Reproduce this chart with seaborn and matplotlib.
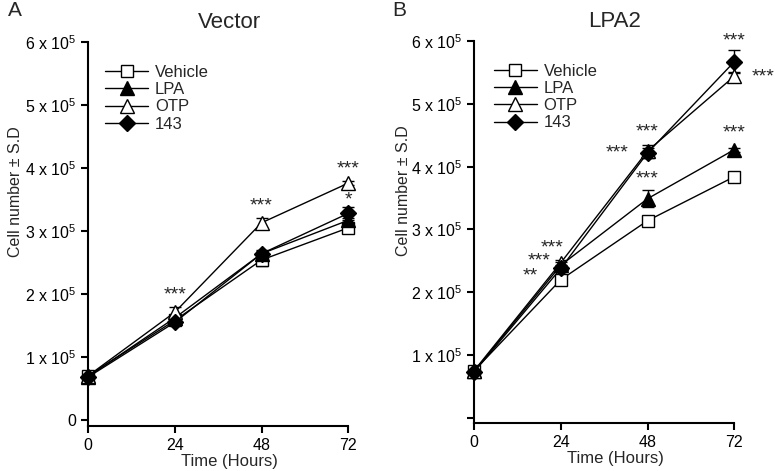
import matplotlib
matplotlib.use("Agg")
import matplotlib.pyplot as plt
import seaborn as sns
import pandas as pd
from matplotlib.lines import Line2D

sns.set_theme(style="ticks")
plt.rcParams['font.family'] = ['Liberation Sans', 'DejaVu Sans']
plt.rcParams['mathtext.fontset'] = 'custom'
plt.rcParams['mathtext.rm'] = 'Liberation Sans'
plt.rcParams['mathtext.it'] = 'Liberation Sans'

hours = [0, 24, 48, 72]
series = ["Vehicle", "LPA", "OTP", "143"]

# Values in units of 1e5 cells
vec_vehicle = [0.70, 1.58, 2.54, 3.05]
vec_lpa = [0.69, 1.62, 2.64, 3.17]
vec_otp = [0.70, 1.71, 3.13, 3.76]
vec_143 = [0.68, 1.55, 2.64, 3.28]
vec_vehicle_sd = [0.03, 0.04, 0.10, 0.08]
vec_lpa_sd = [0.03, 0.04, 0.05, 0.04]
vec_otp_sd = [0.03, 0.08, 0.08, 0.03]
vec_143_sd = [0.03, 0.04, 0.06, 0.10]

lpa2_vehicle = [0.75, 2.20, 3.14, 3.84]
lpa2_lpa = [0.74, 2.43, 3.49, 4.27]
lpa2_otp = [0.75, 2.47, 4.25, 5.44]
lpa2_143 = [0.73, 2.38, 4.22, 5.67]
lpa2_vehicle_sd = [0.03, 0.05, 0.07, 0.08]
lpa2_lpa_sd = [0.03, 0.05, 0.14, 0.03]
lpa2_otp_sd = [0.03, 0.05, 0.10, 0.07]
lpa2_143_sd = [0.03, 0.05, 0.08, 0.18]

ytick_vals = [0, 1, 2, 3, 4, 5, 6]
ytick_labels_a = ["0"] + [f"{v} x 10$^{{5}}$" for v in range(1, 7)]
ytick_labels_b = [""] + [f"{v} x 10$^{{5}}$" for v in range(1, 7)]

# significance annotations: (hours, value, text, dx)
stars_a = [(24, 1.98, "***", 0), (48, 3.4, "***", 0),
           (72, 3.98, "***", 0), (72, 3.5, "*", 0)]
stars_b = [(24, 2.71, "***", -2.5), (24, 2.50, "***", -6), (24, 2.26, "**", -8.5),
           (48, 4.55, "***", 0), (48, 4.21, "***", -8.5), (48, 3.80, "***", 0),
           (72, 6.00, "***", 0), (72, 5.43, "***", 8), (72, 4.53, "***", 0)]

styles = {
    "Vehicle": dict(marker="s", mfc="white", ms=9),
    "LPA": dict(marker="^", mfc="black", ms=10),
    "OTP": dict(marker="^", mfc="white", ms=10),
    "143": dict(marker="D", mfc="black", ms=8.5),
}

fig = plt.figure(figsize=(7.75, 4.71), dpi=100)
axA = fig.add_axes([88/775, (471-426.3)/471, 282/775, (426.3-42)/471])
axB = fig.add_axes([474/775, (471-423)/471, 282/775, (423-41)/471])


def draw(ax, means, sds, title, ylabels, stars, ybot, leg_x):
    df = pd.DataFrame({"Time": hours * 4,
                       "Cells": sum(means, []),
                       "SD": sum(sds, []),
                       "Group": [s for s in series for _ in hours]})
    for s in series:
        sub = df[df.Group == s]
        ax.errorbar(sub.Time, sub.Cells, yerr=sub.SD, fmt="none", ecolor="black",
                    elinewidth=1, capsize=4, capthick=1, clip_on=False, zorder=3)
        st = styles[s]
        sns.lineplot(data=sub, x="Time", y="Cells", ax=ax, color="black", lw=1,
                     marker=st["marker"], markerfacecolor=st["mfc"], markeredgecolor="black",
                     markeredgewidth=1, markersize=st["ms"], clip_on=False, zorder=4,
                     errorbar=None)
    ax.set_xlim(0, 78)
    ax.set_ylim(ybot, 6)
    ax.set_xticks(hours)
    ax.set_xticklabels([str(h) for h in hours])
    ax.set_yticks(ytick_vals)
    ax.set_yticklabels(ylabels)
    ax.spines['right'].set_visible(False)
    ax.spines['top'].set_visible(False)
    ax.spines['bottom'].set_bounds(0, 72)
    for sp in ("left", "bottom"):
        ax.spines[sp].set_linewidth(1.5)
        ax.spines[sp].set_color("black")
    ax.tick_params(axis="both", direction="out", length=5, width=1.5, colors="black",
                   labelsize=11.5)
    ax.set_xlabel("Time (Hours)", fontsize=12, labelpad=1)
    ax.set_ylabel("")
    ax.text(0.5, 1.05, title, transform=ax.transAxes, ha="center", va="center", fontsize=16)
    for (t, v, txt, dx) in stars:
        ax.text(t + dx, v, txt, ha="center", va="center", fontsize=14, clip_on=False)
    handles = [Line2D([], [], color="black", lw=1, marker=styles[s]["marker"],
                      mfc=styles[s]["mfc"], mec="black", ms=styles[s]["ms"]) for s in series]
    ax.legend(handles, series, loc="upper left", bbox_to_anchor=(leg_x, 0.94), frameon=False,
              fontsize=12, handlelength=2.6, handletextpad=0.4, labelspacing=0.13,
              borderaxespad=0, borderpad=0)


draw(axA, [vec_vehicle, vec_lpa, vec_otp, vec_143],
     [vec_vehicle_sd, vec_lpa_sd, vec_otp_sd, vec_143_sd], "Vector", ytick_labels_a, stars_a, -0.1, 0.06)
draw(axB, [lpa2_vehicle, lpa2_lpa, lpa2_otp, lpa2_143],
     [lpa2_vehicle_sd, lpa2_lpa_sd, lpa2_otp_sd, lpa2_143_sd], "LPA2", ytick_labels_b, stars_b, -0.08, 0.07)

fig.text(16/775, 1 - 192/471, "Cell number ± S.D", rotation=90, fontsize=11.5,
         ha="center", va="center")
fig.text(404/775, 1 - 191/471, "Cell number ± S.D", rotation=90, fontsize=11.5,
         ha="center", va="center")

fig.text(8/775, 1 - 10/471, "A", fontsize=15, ha="left", va="center")
fig.text(392/775, 1 - 10/471, "B", fontsize=15, ha="left", va="center")

fig.savefig("out.png", dpi=100)
